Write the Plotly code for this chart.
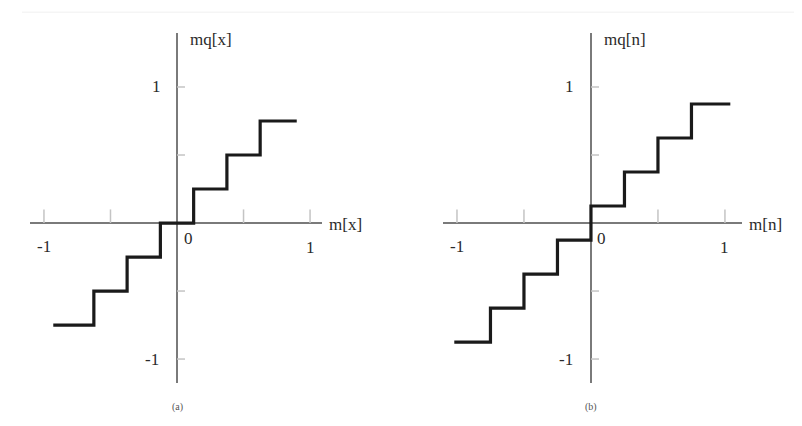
import plotly.graph_objects as go

# (a) midtread quantizer: step edges and output levels
edges_a = [-0.93, -0.625, -0.375, -0.125, 0.125, 0.375, 0.625, 0.9]
levels_a = [-0.75, -0.5, -0.25, 0.0, 0.25, 0.5, 0.75]

# (b) midrise quantizer
edges_b = [-1.02, -0.75, -0.5, -0.25, 0.0, 0.25, 0.5, 0.75, 1.04]
levels_b = [-0.875, -0.625, -0.375, -0.125, 0.125, 0.375, 0.625, 0.875]

tick_pos = [-1, -0.5, 0.5, 1]
panels = [
    dict(edges=edges_a, levels=levels_a, xa="x", ya="y", xend=1.085,
         ylab="mq[x]", xlab="m[x]", cap="(a)"),
    dict(edges=edges_b, levels=levels_b, xa="x2", ya="y2", xend=1.12,
         ylab="mq[n]", xlab="m[n]", cap="(b)"),
]

FONT = "Liberation Serif"
fig = go.Figure()
shapes = []
annotations = []

for p in panels:
    xs = p["edges"]
    ys = p["levels"] + [p["levels"][-1]]
    fig.add_trace(go.Scatter(
        x=xs, y=ys, mode="lines", line_shape="hv",
        line=dict(color="#1a1a1a", width=3.2),
        xaxis=p["xa"], yaxis=p["ya"], showlegend=False, hoverinfo="skip",
    ))
    xr, yr = p["xa"], p["ya"]
    # small tick marks on the axes
    for t in tick_pos:
        shapes.append(dict(type="line", xref=xr, yref=yr, x0=t, x1=t, y0=0, y1=0.1,
                           line=dict(color="#c4c4c4", width=1.5)))
        shapes.append(dict(type="line", xref=xr, yref=yr, x0=0, x1=0.06, y0=t, y1=t,
                           line=dict(color="#c4c4c4", width=1.5)))
    txt = dict(family=FONT, size=17, color="#2a2a2a")
    annotations += [
        dict(x=-1, y=0, xref=xr, yref=yr, text="-1", showarrow=False, yshift=-23, font=txt),
        dict(x=1, y=0, xref=xr, yref=yr, text="1", showarrow=False, yshift=-24, font=txt),
        dict(x=0, y=0, xref=xr, yref=yr, text="0", showarrow=False, xshift=11, yshift=-15, font=txt),
        dict(x=0, y=1, xref=xr, yref=yr, text="1", showarrow=False, xshift=-21, font=txt),
        dict(x=0, y=-1, xref=xr, yref=yr, text="-1", showarrow=False, xshift=-25, font=txt),
        dict(x=0, y=1.35, xref=xr, yref=yr, text=p["ylab"], showarrow=False,
             xanchor="left", xshift=11, font=txt),
        dict(x=p["xend"], y=0, xref=xr, yref=yr, text=p["xlab"], showarrow=False,
             xanchor="left", xshift=6, yshift=-1, font=txt),
        dict(x=0, y=-1.17, xref=xr, yref=yr, text=p["cap"], showarrow=False,
             yshift=-25, font=dict(family=FONT, size=10, color="#555555")),
    ]

# faint scan border
shapes.append(dict(type="line", xref="paper", yref="paper", x0=0.0176, x1=1.0,
                   y0=0.99, y1=0.99, line=dict(color="#f0f0f0", width=1)))

ax_common = dict(showgrid=False, showticklabels=False, ticks="", showline=False,
                 zeroline=True, zerolinecolor="#7a7a7a", zerolinewidth=2.2, fixedrange=True)

fig.update_layout(
    width=794, height=418,
    margin=dict(l=0, r=0, t=0, b=0),
    paper_bgcolor="white", plot_bgcolor="white",
    xaxis=dict(domain=[0.0277, 0.3955], range=[-1.105, 1.09], anchor="y", **ax_common),
    yaxis=dict(domain=[0.1029, 0.9402], range=[-1.176, 1.397], anchor="x", **ax_common),
    xaxis2=dict(domain=[0.5479, 0.9244], range=[-1.104, 1.127], anchor="y2", **ax_common),
    yaxis2=dict(domain=[0.1029, 0.9402], range=[-1.176, 1.397], anchor="x2", **ax_common),
    shapes=shapes,
    annotations=annotations,
)

fig.write_html("out.html")
